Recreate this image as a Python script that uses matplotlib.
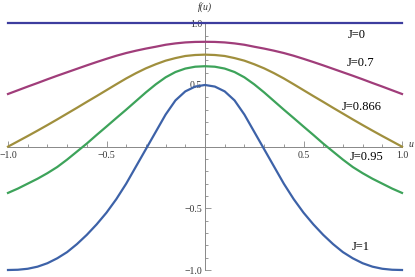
import numpy as np
import matplotlib
matplotlib.use("Agg")
import matplotlib.pyplot as plt
from matplotlib.ticker import MultipleLocator, FixedLocator

u = [-1.0, -0.95, -0.9, -0.85, -0.8, -0.75, -0.7, -0.65, -0.6, -0.55, -0.5,
     -0.45, -0.4, -0.35, -0.3, -0.25, -0.2, -0.15, -0.1, -0.05, 0.0,
     0.05, 0.1, 0.15, 0.2, 0.25, 0.3, 0.35, 0.4, 0.45, 0.5,
     0.55, 0.6, 0.65, 0.7, 0.75, 0.8, 0.85, 0.9, 0.95, 1.0]

f_j0 = [1.0] * 41

f_j07 = [0.427, 0.457, 0.487, 0.516, 0.546, 0.575, 0.603, 0.631, 0.659, 0.686, 0.712,
         0.737, 0.759, 0.778, 0.795, 0.810, 0.826, 0.837, 0.845, 0.849, 0.850,
         0.849, 0.845, 0.837, 0.826, 0.810, 0.795, 0.778, 0.759, 0.737, 0.712,
         0.686, 0.659, 0.631, 0.603, 0.575, 0.546, 0.516, 0.487, 0.457, 0.427]

f_j0866 = [0.0, 0.043, 0.086, 0.130, 0.175, 0.221, 0.268, 0.315, 0.363, 0.410, 0.458,
           0.506, 0.553, 0.596, 0.635, 0.668, 0.697, 0.718, 0.735, 0.743, 0.746,
           0.743, 0.735, 0.718, 0.697, 0.668, 0.635, 0.596, 0.553, 0.506, 0.458,
           0.410, 0.363, 0.315, 0.268, 0.221, 0.175, 0.130, 0.086, 0.043, 0.0]

f_j095 = [-0.375, -0.340, -0.300, -0.260, -0.215, -0.165, -0.105, -0.040, 0.025, 0.095, 0.163,
          0.232, 0.300, 0.370, 0.440, 0.505, 0.562, 0.605, 0.633, 0.648, 0.652,
          0.648, 0.633, 0.605, 0.562, 0.505, 0.440, 0.370, 0.300, 0.232, 0.163,
          0.095, 0.025, -0.040, -0.105, -0.165, -0.215, -0.260, -0.300, -0.340, -0.375]

f_j1 = [-1.0, -0.998, -0.990, -0.973, -0.945, -0.905, -0.855, -0.790, -0.715, -0.630, -0.535,
        -0.425, -0.300, -0.160, -0.020, 0.120, 0.260, 0.375, 0.448, 0.487, 0.500,
        0.487, 0.448, 0.375, 0.260, 0.120, -0.020, -0.160, -0.300, -0.425, -0.535,
        -0.630, -0.715, -0.790, -0.855, -0.905, -0.945, -0.973, -0.990, -0.998, -1.0]

curves = [f_j0, f_j07, f_j0866, f_j095, f_j1]
labels = ["J=0", "J=0.7", "J=0.866", "J=0.95", "J=1"]
colors = ["#3d3d9e", "#a03d7a", "#a08f3d", "#3da35a", "#3d62a8"]
label_pos = [(0.772, 0.906), (0.792, 0.679), (0.797, 0.322), (0.822, -0.083), (0.792, -0.813)]

fig = plt.figure(figsize=(4.15, 2.77), dpi=100)
ax = fig.add_axes([8 / 415, 7 / 277, 394 / 415, 246.7 / 277])
ax.set_xlim(-1, 1)
ax.set_ylim(-1, 1)

for ys, c in zip(curves, colors):
    ax.plot(u, ys, color=c, lw=1.6, clip_on=False, zorder=3)

for lab, (x, y) in zip(labels, label_pos):
    ax.text(x, y, lab, ha="center", va="center", fontsize=9,
            family="Liberation Serif", zorder=4)

# Mathematica style axes through the origin
for side in ["top", "right"]:
    ax.spines[side].set_visible(False)
ax.spines["left"].set_position(("data", 0))
ax.spines["bottom"].set_position(("data", 0))
for side in ["left", "bottom"]:
    ax.spines[side].set_color("#888888")
    ax.spines[side].set_linewidth(0.7)
ax.set_axisbelow(True)

ax.xaxis.set_major_locator(FixedLocator([-1.0, -0.5, 0.5, 1.0]))
ax.yaxis.set_major_locator(FixedLocator([-1.0, -0.5, 0.5, 1.0]))
ax.xaxis.set_minor_locator(MultipleLocator(0.1))
ax.yaxis.set_minor_locator(MultipleLocator(0.1))
ax.set_xticklabels(["\u22121.0", "\u22120.5", "0.5", "1.0"])
ax.set_yticklabels(["\u22121.0", "\u22120.5", "0.5", "1.0"])
ax.tick_params(which="both", direction="in", color="#888888", width=0.6,
               labelsize=7, labelcolor="#333333")
ax.tick_params(which="major", length=4)
ax.tick_params(which="minor", length=2.5)
ax.tick_params(axis="x", pad=3)
ax.tick_params(axis="y", pad=2)
for t in ax.get_xticklabels() + ax.get_yticklabels():
    t.set_family("Liberation Serif")

ax.text(0.0, 1.133, "f(u)", ha="center", va="center", fontsize=7,
        style="italic", family="Liberation Serif", color="#333333", clip_on=False)
ax.text(1.046, 0.02, "u", ha="center", va="center", fontsize=7,
        style="italic", family="Liberation Serif", color="#333333", clip_on=False)

fig.savefig("out.png", dpi=100)
